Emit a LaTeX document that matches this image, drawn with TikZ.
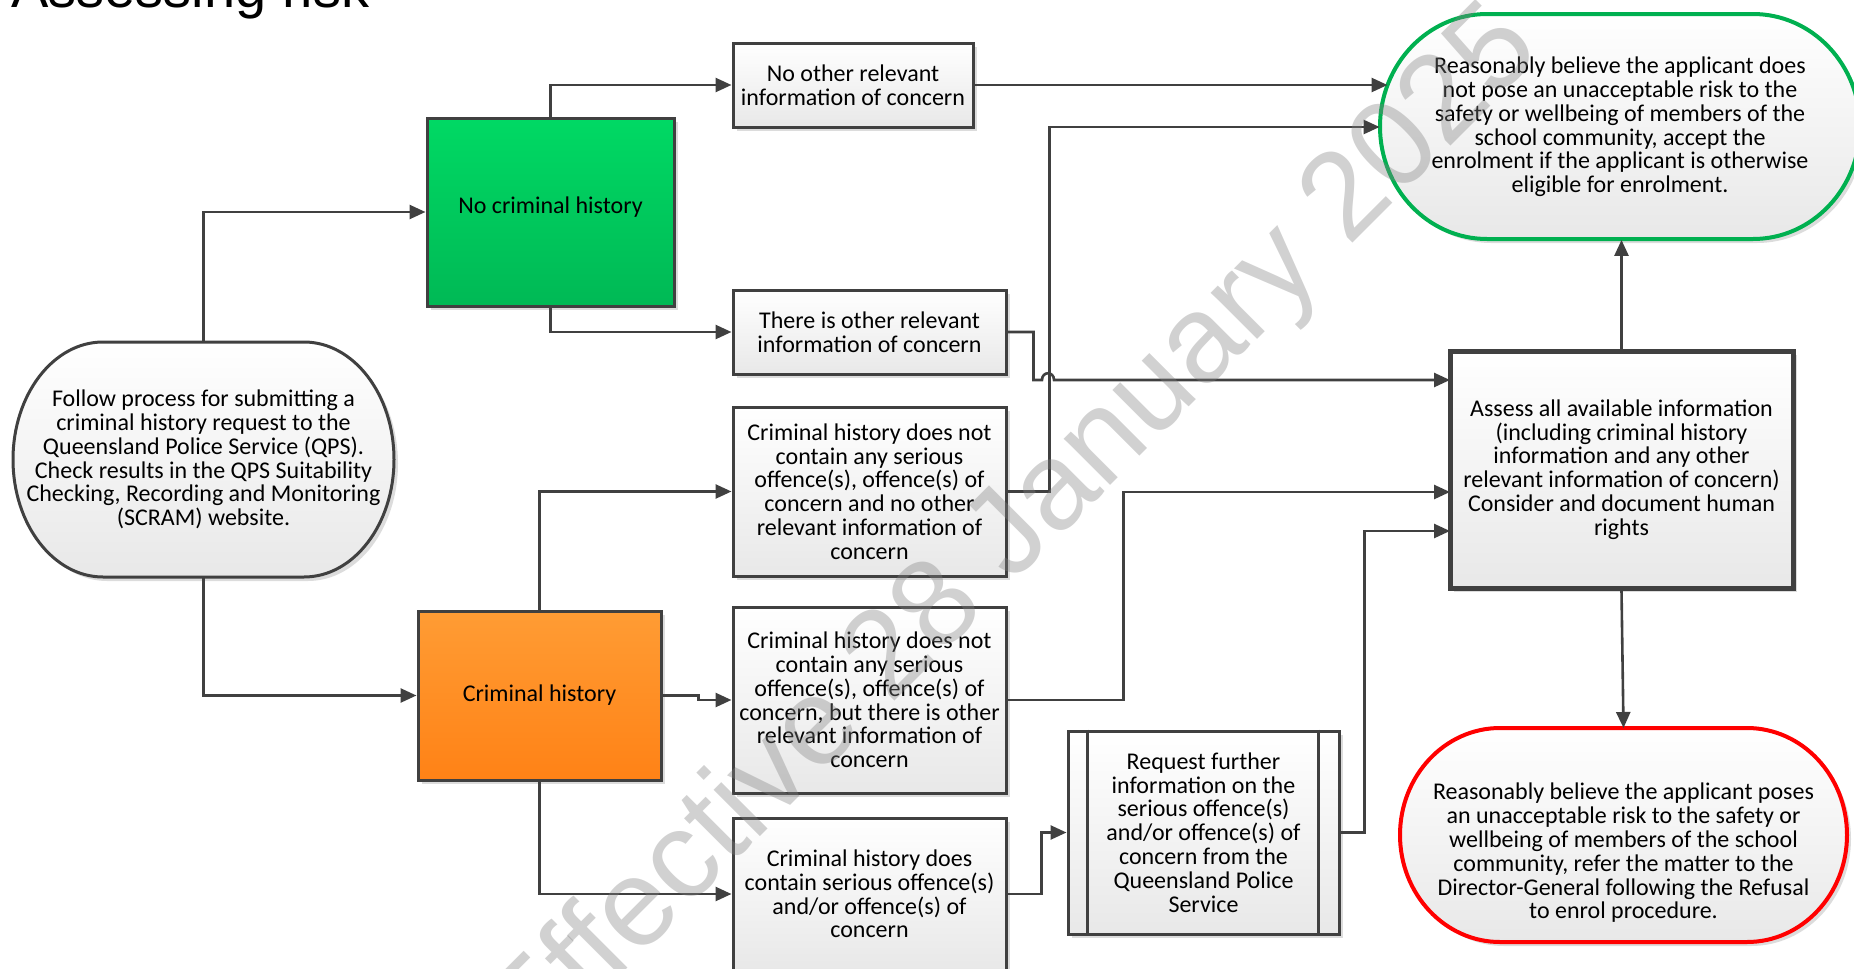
\documentclass[tikz,border=0pt]{standalone}
\usepackage{fontspec}
\setmainfont{Carlito}
\newfontfamily\arialfont{Liberation Sans}
\usetikzlibrary{arrows.meta,shadows,calc}
\definecolor{linec}{RGB}{64,64,64}
\definecolor{grtop}{RGB}{0,217,100}
\definecolor{grbot}{RGB}{0,185,85}
\definecolor{ortop}{RGB}{255,156,52}
\definecolor{orbot}{RGB}{255,130,22}
\definecolor{grline}{RGB}{0,176,80}
\definecolor{redline}{RGB}{255,0,0}
\newcommand\termshape[6]{%
 \pgfmathsetmacro\tmL{#2-#4}\pgfmathsetmacro\tmR{#2+#4}%
 \pgfmathsetmacro\tmA{#2-#4+#6}\pgfmathsetmacro\tmB{#2+#4-#6}%
 \pgfmathsetmacro\tmT{#3-#5}\pgfmathsetmacro\tmBo{#3+#5}%
 \pgfmathsetmacro\tmkx{0.5523*#6}\pgfmathsetmacro\tmky{0.5523*#5}%
 \path[#1] (\tmA,\tmT) -- (\tmB,\tmT) .. controls ({\tmB+\tmkx},\tmT) and (\tmR,{#3-\tmky}) .. (\tmR,#3) .. controls (\tmR,{#3+\tmky}) and ({\tmB+\tmkx},\tmBo) .. (\tmB,\tmBo) -- (\tmA,\tmBo) .. controls ({\tmA-\tmkx},\tmBo) and (\tmL,{#3+\tmky}) .. (\tmL,#3) .. controls (\tmL,{#3-\tmky}) and ({\tmA-\tmkx},\tmT) .. (\tmA,\tmT) -- cycle;}
\begin{document}
\begin{tikzpicture}[x=0.5pt,y=-0.5pt,
  txt/.style={align=center, inner sep=0pt, font=\fontsize{12}{11.9}\selectfont},
  shad/.style={drop shadow={shadow xshift=2pt, shadow yshift=-2pt, fill=black!30, opacity=0.45}},
  box/.style={txt, shad, draw=linec, line width=1.5pt, top color=white, bottom color=black!9},
  greenbox/.style={txt, shad, draw=linec, line width=1.5pt, top color=grtop, bottom color=grbot},
  orangebox/.style={txt, shad, draw=linec, line width=1.5pt, top color=ortop, bottom color=orbot},
  tnode/.style={txt},
  termfill/.style={top color=white, bottom color=black!9, preaction={fill=black!30, opacity=0.45, transform canvas={xshift=2pt,yshift=-2pt}}},
  arr/.style={draw=linec, line width=1.3pt, -{Triangle[length=8pt,width=7pt]}}]
\useasboundingbox (0,0) rectangle (1854,969);
\clip (0,0) rectangle (1854,969);

% title (cut off at the top)
\node[anchor=base west, font=\arialfont\fontsize{28}{28}\selectfont, inner sep=0pt] (title) at (11,8) {Assessing risk};

% terminator shapes
\termshape{termfill, draw=linec, line width=1.5pt}{203.5}{459.5}{190.5}{117.5}{90}
\termshape{termfill, draw=grline, line width=2pt}{1620}{126.5}{240}{112.5}{107}
\termshape{termfill, draw=redline, line width=2pt}{1623.5}{835}{223.5}{107}{100}

\node[tnode, minimum width=190.5pt, minimum height=117.5pt] (start) at (203.5,459.5)
 {Follow process for submitting a\\criminal history request to the\\Queensland Police Service (QPS).\\Check results in the QPS Suitability\\Checking, Recording and Monitoring\\(SCRAM) website.};
\node[tnode, minimum width=240pt, minimum height=112.5pt] (gr) at (1620,127)
 {Reasonably believe the applicant does\\not pose an unacceptable risk to the\\safety or wellbeing of members of the\\school community, accept the\\enrolment if the applicant is otherwise\\eligible for enrolment.};
\node[tnode] (red) at (1623.5,853)
 {Reasonably believe the applicant poses\\an unacceptable risk to the safety or\\wellbeing of members of the school\\community, refer the matter to the\\Director-General following the Refusal\\to enrol procedure.};
\coordinate (redtop) at (1623.5,728);

% boxes
\node[greenbox, minimum width=123.5pt, minimum height=94pt] (nch) at (550.5,212) {\raisebox{7pt}{No criminal history}};
\node[orangebox, minimum width=121.5pt, minimum height=84.5pt] (ch) at (539.5,695.5) {Criminal history};
\node[box, minimum width=120pt, minimum height=42pt] (noother) at (853,85) {No other relevant\\information of concern};
\node[box, minimum width=136.5pt, minimum height=42pt] (other) at (869.5,332) {There is other relevant\\information of concern};
\node[box, minimum width=136.5pt, minimum height=84.5pt] (b1) at (869.5,491.5)
 {Criminal history does not\\contain any serious\\offence(s), offence(s) of\\concern and no other\\relevant information of\\concern};
\node[box, minimum width=136.5pt, minimum height=93pt] (b2) at (869.5,700)
 {Criminal history does not\\contain any serious\\offence(s), offence(s) of\\concern, but there is other\\relevant information of\\concern};
\node[box, minimum width=136.5pt, minimum height=76pt] (b3) at (869.5,894)
 {Criminal history does\\contain serious offence(s)\\and/or offence(s) of\\concern};
\node[box, minimum width=135.5pt, minimum height=101.5pt] (req) at (1203.5,832.5)
 {Request further\\information on the\\serious offence(s)\\and/or offence(s) of\\concern from the\\Queensland Police\\Service};
\draw[linec, line width=1.5pt] ([xshift=10.5pt]req.north west) -- ([xshift=10.5pt]req.south west);
\draw[linec, line width=1.5pt] ([xshift=-11pt]req.north east) -- ([xshift=-11pt]req.south east);
\node[box, line width=2.5pt, minimum width=171.5pt, minimum height=118.5pt] (assess) at (1621.5,469.5)
 {Assess all available information\\(including criminal history\\information and any other\\relevant information of concern)\\Consider and document human\\rights};

% connector end points on shape borders
\coordinate (gin1) at (1387.5,85);
\coordinate (a1) at (1450,380);
\coordinate (a2) at (1450,492);
\coordinate (a3) at (1450,531);

% connectors
\draw[arr] (start.north) |- (nch.west);
\draw[arr] (start.south) |- (ch.west);
\draw[arr] (nch.north) |- (noother.west);
\draw[arr] (nch.south) |- (other.west);
\draw[arr] (ch.north) |- (b1.west);
\draw[arr] (ch.east) -- ++(36,0) |- (b2.west);
\draw[arr] (ch.south) |- (b3.west);
\draw[arr] (noother.east) -- (gin1);
\draw[arr] (b1.east) -- ++(42,0) |- (gr.west);
\draw[arr] (other.east) -- ++(26,0) |- (1042,380) .. controls (1042,371) and (1054,371) .. (1054,380) -- (a1);
\draw[arr] (b2.east) -- ++(116,0) |- (a2);
\draw[arr] (b3.east) -- ++(34,0) |- (req.west);
\draw[arr] (req.east) -- ++(24,0) |- (a3);
\draw[arr] (assess.north) -- (assess.north |- gr.south);
\draw[arr] (assess.south) -- (redtop);

% watermark
\node[rotate=45, font=\arialfont\fontsize{62}{62}\selectfont, text=black!50, opacity=0.36, inner sep=0pt] (wm) at (1015,536) {Effective 28 January 2025};
\end{tikzpicture}
\end{document}
